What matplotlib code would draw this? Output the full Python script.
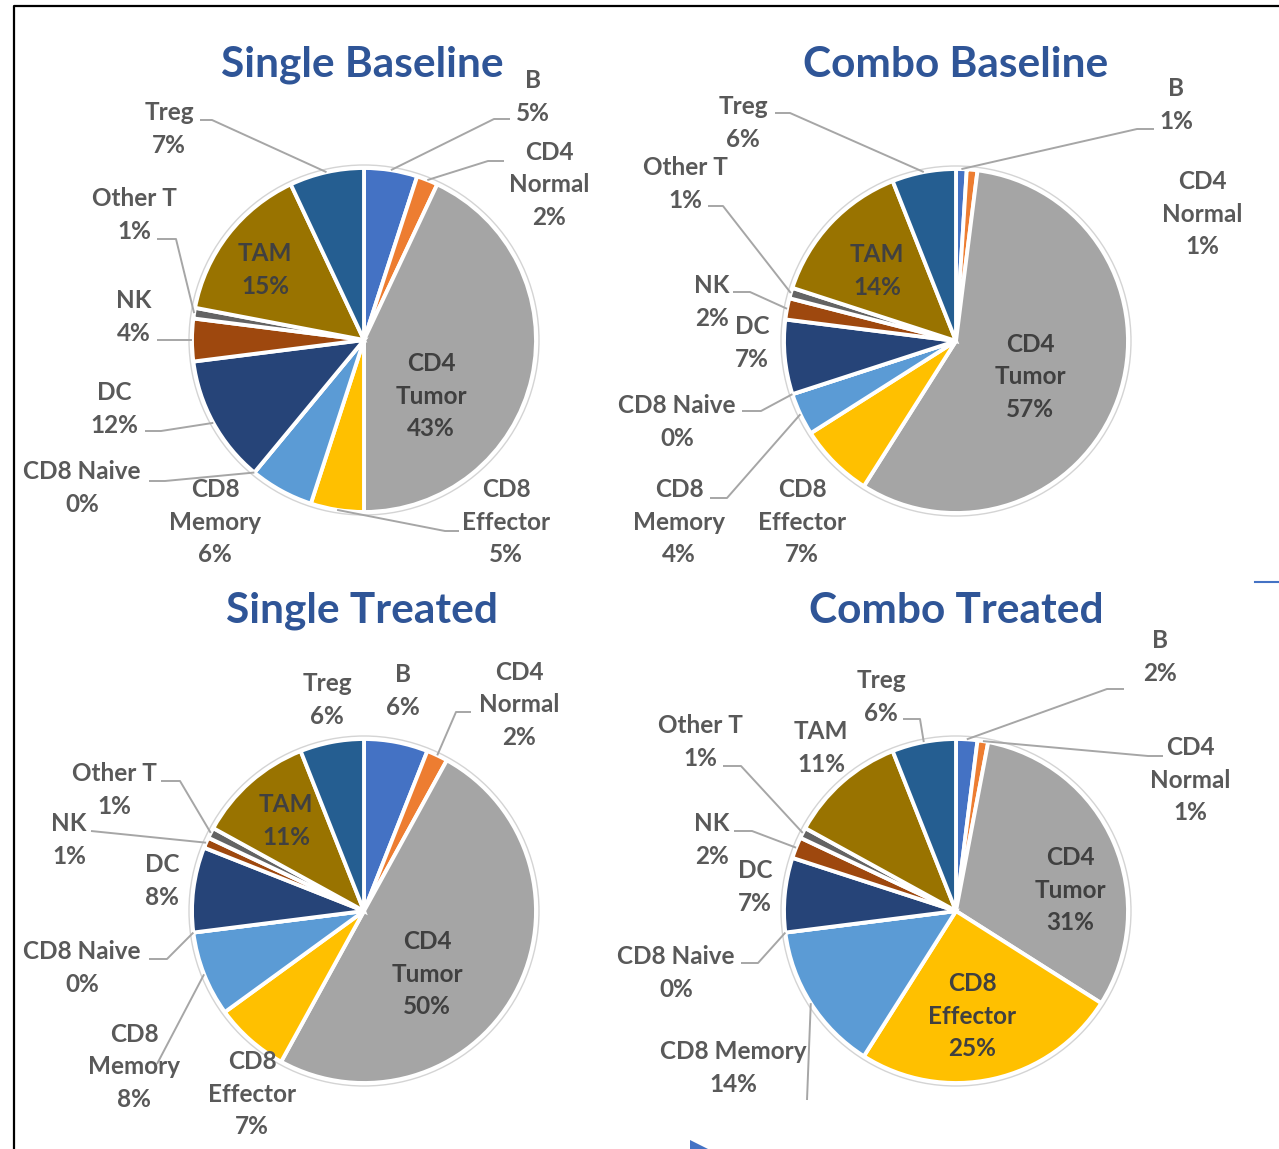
import numpy as np
import matplotlib
import matplotlib.pyplot as plt
from matplotlib.patches import Circle, Polygon

matplotlib.use("Agg")

# ---- data -------------------------------------------------------------
categories = ["B", "CD4 Normal", "CD4 Tumor", "CD8 Effector", "CD8 Memory",
              "CD8 Naive", "DC", "NK", "Other T", "TAM", "Treg"]
colors = ["#4472C4", "#ED7D31", "#A5A5A5", "#FFC000", "#5B9BD5",
          "#70AD47", "#264478", "#9E480E", "#636363", "#997300", "#255E91"]

single_baseline = [5, 2, 43, 5, 6, 0, 12, 4, 1, 15, 7]
combo_baseline = [1, 1, 57, 7, 4, 0, 7, 2, 1, 14, 6]
single_treated = [6, 2, 50, 7, 8, 0, 8, 1, 1, 11, 6]
combo_treated = [2, 1, 31, 25, 14, 0, 7, 2, 1, 11, 6]

titles = ["Single Baseline", "Combo Baseline", "Single Treated", "Combo Treated"]

# ---- layout (pixel coords, y down) ------------------------------------
W, H = 1279, 1149
R = 172
TITLE_COLOR = "#2F5597"
LABEL_COLOR = "#595959"
INSIDE_COLOR = "#404040"
LINE_COLOR = "#A6A6A6"
FONT = ["Lato", "DejaVu Sans"]

# label: (x, y, wrap, inside, leader points from label side)
layout_sb = {
    "center": (364, 340), "title": (362, 65),
    "labels": {
        "B": (533, 97, True, False, [(510, 119), (494, 119)]),
        "CD4 Normal": (549, 185, True, False, [(504, 161), (488, 161)]),
        "CD4 Tumor": (431, 396, True, True, None),
        "CD8 Effector": (506, 522, True, False, [(459, 531), (445, 531)]),
        "CD8 Memory": (215, 522, True, False, None),
        "CD8 Naive": (82, 488, False, False, [(149, 481), (165, 481)]),
        "DC": (114, 409, True, False, [(145, 431), (161, 431)]),
        "NK": (134, 317, True, False, [(157, 340), (175, 340)]),
        "Other T": (134, 215, True, False, [(157, 239), (176, 239)]),
        "TAM": (265, 270, True, True, None),
        "Treg": (169, 129, True, False, [(200, 120), (212, 120)]),
    },
}
layout_cb = {
    "center": (956, 341), "title": (956, 65),
    "labels": {
        "B": (1176, 105, True, False, [(1154, 129), (1137, 129)]),
        "CD4 Normal": (1202, 214, True, False, None),
        "CD4 Tumor": (1030, 377, True, True, None),
        "CD8 Effector": (802, 522, True, False, None),
        "CD8 Memory": (679, 522, True, False, [(710, 498), (727, 498)]),
        "CD8 Naive": (677, 422, False, False, [(742, 411), (761, 411)]),
        "DC": (752, 343, True, False, None),
        "NK": (712, 302, True, False, [(733, 292), (750, 292)]),
        "Other T": (685, 184, True, False, [(708, 206), (723, 206)]),
        "TAM": (877, 271, True, True, None),
        "Treg": (743, 123, True, False, [(775, 113), (790, 113)]),
    },
}
layout_st = {
    "center": (364, 911), "title": (362, 611),
    "labels": {
        "B": (403, 691, True, False, None),
        "CD4 Normal": (519, 705, True, False, [(471, 712), (456, 712)]),
        "CD4 Tumor": (427, 974, True, True, None),
        "CD8 Effector": (252, 1094, True, False, None),
        "CD8 Memory": (134, 1067, True, False, [(157, 1064)]),
        "CD8 Naive": (82, 968, False, False, [(149, 959), (167, 959)]),
        "DC": (162, 881, True, False, None),
        "NK": (69, 840, True, False, [(91, 831)]),
        "Other T": (114, 790, True, False, [(161, 781), (180, 781)]),
        "TAM": (286, 821, True, True, None),
        "Treg": (327, 700, True, False, None),
    },
}
layout_ct = {
    "center": (956, 911), "title": (956, 611),
    "labels": {
        "B": (1160, 657, True, False, [(1124, 689), (1107, 689)]),
        "CD4 Normal": (1190, 780, True, False, [(1163, 756), (1148, 756)]),
        "CD4 Tumor": (1070, 890, True, True, None),
        "CD8 Effector": (972, 1016, True, True, None),
        "CD8 Memory": (733, 1068, False, False, [(807, 1100)]),
        "CD8 Naive": (676, 973, False, False, [(741, 963), (758, 963)]),
        "DC": (755, 887, True, False, None),
        "NK": (712, 840, True, False, [(734, 831), (752, 831)]),
        "Other T": (700, 742, True, False, [(723, 766), (741, 766)]),
        "TAM": (821, 748, True, False, None),
        "Treg": (881, 697, True, False, [(903, 719), (920, 719)]),
    },
}


def draw_pie(ax, values, title, lay):
    cx, cy = lay["center"]
    wedges, _ = ax.pie(values, colors=colors, center=(cx, cy), radius=R,
                       startangle=-90, counterclock=True,
                       wedgeprops=dict(edgecolor="white", linewidth=2.8))
    ax.add_patch(Circle((cx, cy), R + 3, fill=False, ec="#D4D4D4", lw=1.0))

    tx, ty = lay["title"]
    ax.text(tx, ty, title, ha="center", va="center", fontsize=30.5,
            fontweight="bold", color=TITLE_COLOR, family=FONT)

    for i, cat in enumerate(categories):
        x, y, wrap, inside, leader = lay["labels"][cat]
        name = cat.replace(" ", "\n") if (wrap and cat != "Other T") else cat
        txt = f"{name}\n{values[i]:.0f}%"
        ax.text(x, y, txt, ha="center", va="center", multialignment="center",
                fontsize=17.5, fontweight="bold", linespacing=1.5,
                color=INSIDE_COLOR if inside else LABEL_COLOR, family=FONT)
        if leader:
            w = wedges[i]
            mid = np.deg2rad((w.theta1 + w.theta2) / 2)
            ex, ey = cx + R * np.cos(mid), cy + R * np.sin(mid)
            pts = list(leader) + [(ex, ey)]
            ax.plot([p[0] for p in pts], [p[1] for p in pts],
                    color=LINE_COLOR, lw=1.4, solid_capstyle="butt")


fig = plt.figure(figsize=(W / 100, H / 100), dpi=100)
ax = fig.add_axes([0, 0, 1, 1])

draw_pie(ax, single_baseline, titles[0], layout_sb)
draw_pie(ax, combo_baseline, titles[1], layout_cb)
draw_pie(ax, single_treated, titles[2], layout_st)
draw_pie(ax, combo_treated, titles[3], layout_ct)

# frame and small stray marks from the screenshot
ax.plot([14, 14, W], [H, 6, 6], color="black", lw=1.6)
ax.plot([1255, W], [582, 582], color="#4472C4", lw=1.5)
ax.add_patch(Polygon([(690, 1140), (690, H), (708, H)], closed=True,
                     color="#4472C4", lw=0))

ax.set_xlim(0, W)
ax.set_ylim(H, 0)
ax.set_aspect("auto")
ax.axis("off")

fig.savefig("out.png", dpi=100)
